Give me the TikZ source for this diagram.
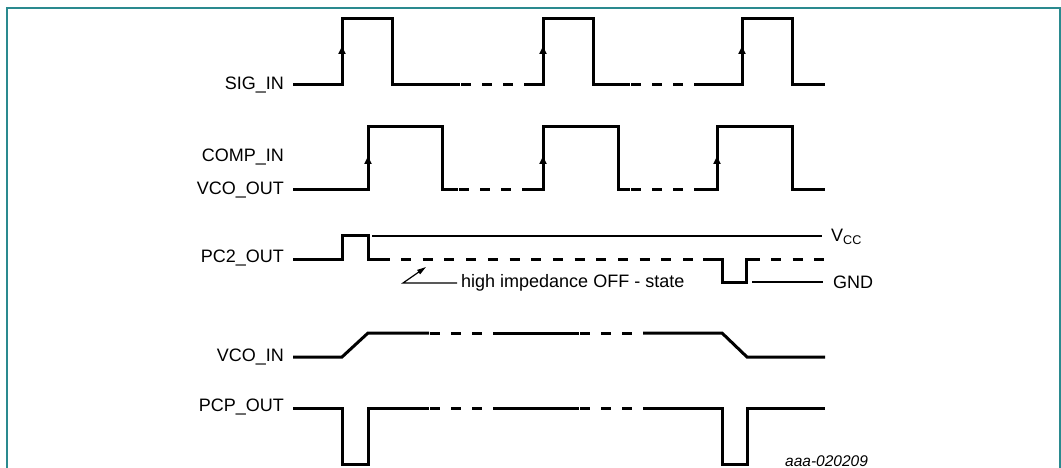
\documentclass[tikz,border=0pt]{standalone}
\usepackage{fontspec}
\setmainfont{Liberation Sans}
\usetikzlibrary{arrows.meta, positioning, calc}
\definecolor{frameteal}{HTML}{2A8A8F}

\begin{document}
\begin{tikzpicture}[x=1pt, y=-1pt,
    sig/.style={line width=3pt, line join=miter},
    thinline/.style={line width=1.2pt},
    lbl/.style={font=\fontsize{18}{20}\selectfont, anchor=east, inner sep=0pt},
    edgearrow/.style={line width=3pt, -{Triangle[width=7pt,length=8pt]}}]
\useasboundingbox (0,0) rectangle (1061,468);
% frame, open at the bottom
\draw[frameteal, line width=1.2pt] (7,468) -- (7,8) -- (1060,8) -- (1060,468);

% SIG_IN
\node[lbl] (sigin) at (284,85) {SIG\_IN};
\draw[sig] (293,85) -| (342,19) -| (392,85) -- (460,85);
\draw[sig] (524,85) -| (543,19) -| (593,85) -- (630,85);
\draw[sig] (694,85) -| (742,19) -| (792,85) -- (825,85);
\foreach \s in {460,630}
  \foreach \d in {1,22,43}
    \draw[sig] (\s+\d,85) -- (\s+\d+10,85);
\foreach \x in {342,543,742}
  \draw[edgearrow] (\x,85) -- (\x,46);

% COMP_IN / VCO_OUT
\node[lbl] (compin) at (284,157) {COMP\_IN};
\node[lbl] (vcoout) at (284,190) {VCO\_OUT};
\draw[sig] (293,190) -| (368,127) -| (442,190) -- (458,190);
\draw[sig] (522,190) -| (543,127) -| (618,190) -- (630,190);
\draw[sig] (694,190) -| (717,127) -| (792,190) -- (825,190);
\foreach \s in {458,630}
  \foreach \d in {1,22,43}
    \draw[sig] (\s+\d,190) -- (\s+\d+10,190);
\foreach \x in {368,543,717}
  \draw[edgearrow] (\x,190) -- (\x,156);

% PC2_OUT
\node[lbl] (pctwo) at (284,258) {PC2\_OUT};
\draw[sig] (293,259) -| (342,235) -| (368,259) -- (390,259);
\draw[sig, dash pattern=on 10pt off 11.7pt] (401,259) -- (693,259);
\draw[sig] (703,259) -| (722,282) -| (746,259) -- (760,259);
\draw[sig, dash pattern=on 10pt off 11.7pt] (771,259) -- (825,259);
\node[lbl, anchor=west, inner xsep=9pt] (vcc) at (822,237) {V\textsubscript{CC}};
\draw[thinline] (372,236) -- (vcc.west |- 0,236);
\node[lbl, anchor=west, inner xsep=10pt] (gnd) at (823,282) {GND};
\draw[thinline] (752,282) -- (gnd.west);
\node[lbl, anchor=west, inner xsep=4pt] (hiz) at (457,283) {high impedance OFF - state};
\coordinate (hizend) at (426,267);
\draw[thinline, -{Triangle[width=5pt,length=9pt]}] (hiz.west) -- (403,283) -- (hizend);

% VCO_IN
\node[lbl] (vcoin) at (284,357) {VCO\_IN};
\draw[sig] (293,357) -- (342,357) -- (368,333) -- (429,333);
\draw[sig] (493,333) -- (579,333);
\draw[sig] (643,333) -- (722,333) -- (747,357) -- (825,357);
\foreach \s in {429,579}
  \foreach \d in {1,22,43}
    \draw[sig] (\s+\d,333) -- (\s+\d+10,333);

% PCP_OUT
\node[lbl] (pcpout) at (284,407) {PCP\_OUT};
\draw[sig] (293,408) -| (342,464) -| (368,408) -- (429,408);
\draw[sig] (493,408) -- (579,408);
\draw[sig] (643,408) -| (722,464) -| (747,408) -- (825,408);
\foreach \s in {429,579}
  \foreach \d in {1,22,43}
    \draw[sig] (\s+\d,408) -- (\s+\d+10,408);

\node[font=\fontsize{15.5}{18}\selectfont\itshape, anchor=west, inner sep=0pt] (docid) at (785,461) {aaa-020209};
\end{tikzpicture}
\end{document}
